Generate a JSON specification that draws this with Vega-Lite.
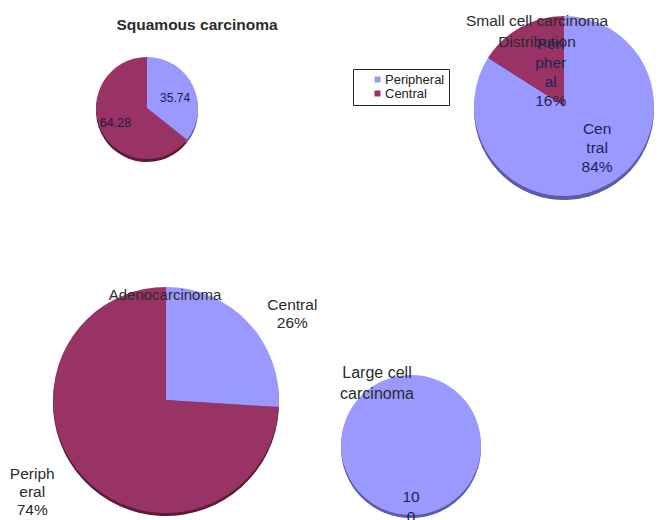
{
  "$schema": "https://vega.github.io/schema/vega-lite/v6.json",
  "padding": 0,
  "background": "white",
  "spacing": 64,
  "config": {"view": {"stroke": null}, "text": {"font": "Liberation Sans"}},
  "datasets": {
    "pies": [
      {"pie": "Squamous", "series": "Peripheral", "ord": 1, "value": 35.74, "label": "35.74", "title": "Squamous carcinoma"},
      {"pie": "Squamous", "series": "Central", "ord": 2, "value": 64.28, "label": "64.28", "title": "Squamous carcinoma"},
      {"pie": "Small cell", "series": "Peripheral", "ord": 1, "value": 84, "label": ["Cen", "tral", "84%"], "title": ["Small cell carcinoma", "Distribution"]},
      {"pie": "Small cell", "series": "Central", "ord": 2, "value": 16, "label": ["Peri", "pher", "al", "16%"], "title": ["Small cell carcinoma", "Distribution"]},
      {"pie": "Adeno", "series": "Peripheral", "ord": 1, "value": 26, "label": ["Central", "26%"], "title": "Adenocarcinoma"},
      {"pie": "Adeno", "series": "Central", "ord": 2, "value": 74, "label": ["Periph", "eral", "74%"], "title": "Adenocarcinoma"},
      {"pie": "Large cell", "series": "Peripheral", "ord": 1, "value": 100, "label": ["10", "0"], "title": ["Large cell", "carcinoma"]}
    ]
  },
  "vconcat": [
    {
      "bounds": "flush",
      "spacing": 172,
      "hconcat": [
        {
          "width": 294, "height": 216,
          "data": {"name": "pies"},
          "transform": [{"filter": "datum.pie === 'Squamous'"}],
          "layer": [
            {"mark": {"type": "arc", "outerRadius": 51, "yOffset": 3},
             "encoding": {"theta": {"field": "value", "type": "quantitative", "stack": true}, "order": {"field": "ord", "type": "quantitative"}, "detail": {"field": "series"},
               "fill": {"condition": {"test": "datum.ord === 1", "value": "#5c5ca6"}, "value": "#5c1a3a"}}},
            {"mark": {"type": "arc", "outerRadius": 51},
             "encoding": {"theta": {"field": "value", "type": "quantitative", "stack": true}, "order": {"field": "ord", "type": "quantitative"},
               "color": {"field": "series", "type": "nominal", "scale": {"domain": ["Peripheral", "Central"], "range": ["#9999ff", "#993366"]},
                 "legend": {"title": null, "orient": "none", "legendX": 353, "legendY": 69, "direction": "vertical", "symbolType": "square", "symbolSize": 36, "symbolStrokeWidth": 0, "symbolOffset": 14, "labelFontSize": 13, "labelFont": "Liberation Sans", "labelColor": "#222", "labelOffset": 1, "rowPadding": 0, "padding": 4, "strokeColor": "#222", "fillColor": "white"}}}},
            {"mark": {"type": "text", "radius": 29, "dx": 2, "dy": 3, "fontSize": 12, "fill": "#1c1c4c"},
             "encoding": {"theta": {"field": "value", "type": "quantitative", "stack": true}, "order": {"field": "ord", "type": "quantitative"}, "detail": {"field": "series"},
               "text": {"condition": {"test": "datum.ord === 1", "field": "label"}, "value": ""}}},
            {"mark": {"type": "text", "radius": 35, "fontSize": 12.5, "fill": "#1c1c3c"},
             "encoding": {"theta": {"field": "value", "type": "quantitative", "stack": true}, "order": {"field": "ord", "type": "quantitative"}, "detail": {"field": "series"},
               "text": {"condition": {"test": "datum.ord === 2", "field": "label"}, "value": ""}}},
            {"transform": [{"filter": "datum.ord === 1"}],
             "mark": {"type": "text", "dx": 50, "dy": -83, "fontSize": 15.5, "fontWeight": "bold", "fill": "#2b2b2b"},
             "encoding": {"text": {"field": "title"}}}
          ]
        },
        {
          "width": 196, "height": 212,
          "data": {"name": "pies"},
          "transform": [{"filter": "datum.pie === 'Small cell'"}],
          "layer": [
            {"mark": {"type": "arc", "outerRadius": 90, "yOffset": 4},
             "encoding": {"theta": {"field": "value", "type": "quantitative", "stack": true}, "order": {"field": "ord", "type": "quantitative"}, "detail": {"field": "series"},
               "fill": {"condition": {"test": "datum.ord === 1", "value": "#5c5ca6"}, "value": "#5c1a3a"}}},
            {"mark": {"type": "arc", "outerRadius": 90},
             "encoding": {"theta": {"field": "value", "type": "quantitative", "stack": true}, "order": {"field": "ord", "type": "quantitative"},
               "color": {"field": "series", "type": "nominal", "scale": {"domain": ["Peripheral", "Central"], "range": ["#9999ff", "#993366"]},
                 "legend": {"title": null, "orient": "none", "legendX": 353, "legendY": 69, "direction": "vertical", "symbolType": "square", "symbolSize": 36, "symbolStrokeWidth": 0, "symbolOffset": 14, "labelFontSize": 13, "labelFont": "Liberation Sans", "labelColor": "#222", "labelOffset": 1, "rowPadding": 0, "padding": 4, "strokeColor": "#222", "fillColor": "white"}}}},
            {"transform": [{"filter": "datum.ord === 1"}],
             "mark": {"type": "text", "dx": -27, "dy": -85.5, "fontSize": 15.5, "lineHeight": 21, "fill": "#2b2b2b"},
             "encoding": {"text": {"field": "title"}}},
            {"mark": {"type": "text", "radius": 48, "dx": 10, "dy": -19, "fontSize": 15.5, "lineHeight": 19, "fill": "#1c2458"},
             "encoding": {"theta": {"field": "value", "type": "quantitative", "stack": true}, "order": {"field": "ord", "type": "quantitative"}, "detail": {"field": "series"},
               "text": {"condition": {"test": "datum.ord === 1", "field": "label"}, "value": ""}}},
            {"mark": {"type": "text", "radius": 38, "dx": 5, "dy": -28.5, "fontSize": 15.5, "lineHeight": 19, "fill": "#1c2458"},
             "encoding": {"theta": {"field": "value", "type": "quantitative", "stack": true}, "order": {"field": "ord", "type": "quantitative"}, "detail": {"field": "series"},
               "text": {"condition": {"test": "datum.ord === 2", "field": "label"}, "value": ""}}}
          ]
        }
      ]
    },
    {
      "bounds": "flush",
      "spacing": 9,
      "hconcat": [
        {
          "width": 332, "height": 240,
          "data": {"name": "pies"},
          "transform": [{"filter": "datum.pie === 'Adeno'"}],
          "layer": [
            {"mark": {"type": "arc", "outerRadius": 113, "yOffset": 3},
             "encoding": {"theta": {"field": "value", "type": "quantitative", "stack": true}, "order": {"field": "ord", "type": "quantitative"}, "detail": {"field": "series"},
               "fill": {"condition": {"test": "datum.ord === 1", "value": "#5c5ca6"}, "value": "#5c1a3a"}}},
            {"mark": {"type": "arc", "outerRadius": 113},
             "encoding": {"theta": {"field": "value", "type": "quantitative", "stack": true}, "order": {"field": "ord", "type": "quantitative"},
               "color": {"field": "series", "type": "nominal", "scale": {"domain": ["Peripheral", "Central"], "range": ["#9999ff", "#993366"]},
                 "legend": {"title": null, "orient": "none", "legendX": 353, "legendY": 69, "direction": "vertical", "symbolType": "square", "symbolSize": 36, "symbolStrokeWidth": 0, "symbolOffset": 14, "labelFontSize": 13, "labelFont": "Liberation Sans", "labelColor": "#222", "labelOffset": 1, "rowPadding": 0, "padding": 4, "strokeColor": "#222", "fillColor": "white"}}}},
            {"transform": [{"filter": "datum.ord === 1"}],
             "mark": {"type": "text", "dx": -1, "dy": -105, "fontSize": 15, "fill": "#2b2b2b"},
             "encoding": {"text": {"field": "title"}}},
            {"mark": {"type": "text", "radius": 150, "dx": 17, "dy": 8, "fontSize": 15.5, "lineHeight": 18, "fill": "#2b2b2b"},
             "encoding": {"theta": {"field": "value", "type": "quantitative", "stack": true}, "order": {"field": "ord", "type": "quantitative"}, "detail": {"field": "series"},
               "text": {"condition": {"test": "datum.ord === 1", "field": "label"}, "value": ""}}},
            {"mark": {"type": "text", "radius": 130, "dx": -39, "dy": -15, "fontSize": 15.5, "lineHeight": 18, "fill": "#2b2b2b"},
             "encoding": {"theta": {"field": "value", "type": "quantitative", "stack": true}, "order": {"field": "ord", "type": "quantitative"}, "detail": {"field": "series"},
               "text": {"condition": {"test": "datum.ord === 2", "field": "label"}, "value": ""}}}
          ]
        },
        {
          "width": 140, "height": 240,
          "data": {"name": "pies"},
          "transform": [{"filter": "datum.pie === 'Large cell'"}],
          "layer": [
            {"mark": {"type": "arc", "outerRadius": 70, "yOffset": 48},
             "encoding": {"theta": {"field": "value", "type": "quantitative", "stack": true}, "order": {"field": "ord", "type": "quantitative"}, "detail": {"field": "series"},
               "fill": {"condition": {"test": "datum.ord === 1", "value": "#5c5ca6"}, "value": "#5c1a3a"}}},
            {"mark": {"type": "arc", "outerRadius": 70, "yOffset": 45},
             "encoding": {"theta": {"field": "value", "type": "quantitative", "stack": true}, "order": {"field": "ord", "type": "quantitative"},
               "color": {"field": "series", "type": "nominal", "scale": {"domain": ["Peripheral", "Central"], "range": ["#9999ff", "#993366"]},
                 "legend": {"title": null, "orient": "none", "legendX": 353, "legendY": 69, "direction": "vertical", "symbolType": "square", "symbolSize": 36, "symbolStrokeWidth": 0, "symbolOffset": 14, "labelFontSize": 13, "labelFont": "Liberation Sans", "labelColor": "#222", "labelOffset": 1, "rowPadding": 0, "padding": 4, "strokeColor": "#222", "fillColor": "white"}}}},
            {"transform": [{"filter": "datum.ord === 1"}],
             "mark": {"type": "text", "dx": -34, "dy": -27.5, "fontSize": 16, "lineHeight": 21, "fill": "#2b2b2b"},
             "encoding": {"text": {"field": "title"}}},
            {"mark": {"type": "text", "radius": 62, "dy": 35, "fontSize": 15.5, "lineHeight": 20, "fill": "#1c2458", "clip": true},
             "encoding": {"theta": {"field": "value", "type": "quantitative", "stack": true}, "order": {"field": "ord", "type": "quantitative"}, "detail": {"field": "series"},
               "text": {"field": "label"}}}
          ]
        }
      ]
    }
  ]
}
